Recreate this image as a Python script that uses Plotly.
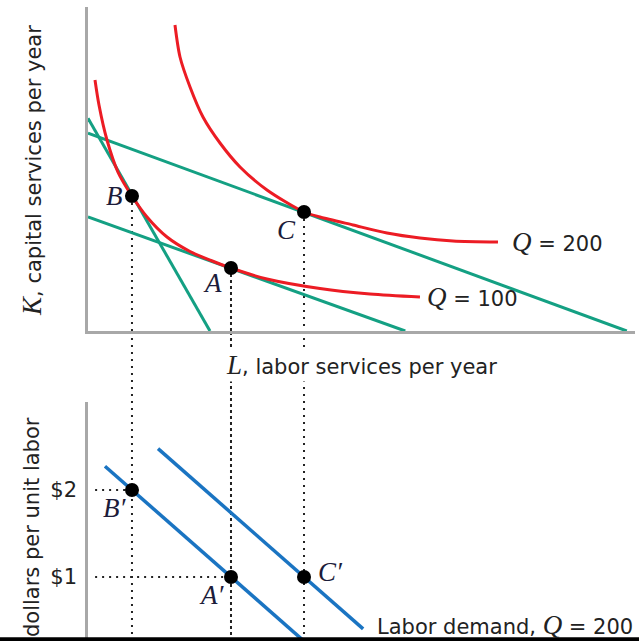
import plotly.graph_objects as go

# ---- data ----
# isoquant Q = 100 (L, K)
L_q100 = [1.28, 2.01, 3.47, 5.48, 8.04, 10.79, 14.44, 18.65, 22.49, 26.14, 32.72, 42.41, 51.55, 60.69]
K_q100 = [77.47, 69.75, 58.95, 49.07, 41.67, 35.19, 29.01, 24.54, 21.76, 19.44, 16.05, 13.12, 11.42, 10.49]
# isoquant Q = 200
L_q200 = [15.90, 16.82, 18.65, 21.02, 24.13, 27.79, 32.72, 39.49, 42.41, 48.45, 54.66, 60.69, 66.73, 74.95]
K_q200 = [94.44, 84.57, 75.31, 66.05, 58.02, 50.62, 43.52, 36.73, 35.19, 32.72, 30.25, 28.70, 27.78, 27.47]
# isocost lines (endpoints)
L_iso_steep = [0, 22.3]
K_iso_steep = [65.7, 0]
L_iso_upper = [0, 98.5]
K_iso_upper = [61.1, 0]
L_iso_lower = [0, 58.0]
K_iso_lower = [35.2, 0]
# tangency points
pt_names = ["B", "A", "C"]
pt_L = [8.04, 26.14, 39.49]
pt_K = [41.67, 19.44, 36.73]
# labour demand (wage per unit labour)
wage_pts = [2, 1, 1]
L_dem100 = [3.1, 41.0]
w_dem100 = [2.273, 0.179]
L_dem200 = [12.8, 50.3]
w_dem200 = [2.475, 0.403]
wage_ticks = [1, 2]
wage_ticktext = ["$1", "$2"]
dotted_start_L = 1.3

RED = "#ec1c24"
GREEN = "#14a083"
BLUE = "#1a74c2"
AXIS = "#a8a8a8"
TXT = "#222222"
SANS = "DejaVu Sans"
SERIF = "Liberation Serif"

fig = go.Figure()

def line(x, y, color, width, yaxis="y", dash=None, shape="linear"):
    fig.add_trace(go.Scatter(x=x, y=y, mode="lines", yaxis=yaxis, xaxis="x",
                             line=dict(color=color, width=width, dash=dash, shape=shape,
                                       smoothing=0.8 if shape == "spline" else None),
                             hoverinfo="skip", showlegend=False))

# isocosts
line(L_iso_steep, K_iso_steep, GREEN, 3)
line(L_iso_upper, K_iso_upper, GREEN, 3)
line(L_iso_lower, K_iso_lower, GREEN, 3)
# isoquants
line(L_q100, K_q100, RED, 3, shape="spline")
line(L_q200, K_q200, RED, 3, shape="spline")
# horizontal dotted lines in lower panel
line([dotted_start_L, pt_L[0]], [wage_pts[0]] * 2, "#222", 2, yaxis="y2", dash="2px,5px")
line([dotted_start_L, pt_L[1]], [wage_pts[1]] * 2, "#222", 2, yaxis="y2", dash="2px,5px")
# labour demand curves
line(L_dem100, w_dem100, BLUE, 3.5, yaxis="y2")
line(L_dem200, w_dem200, BLUE, 3.5, yaxis="y2")
# points
fig.add_trace(go.Scatter(x=pt_L, y=pt_K, mode="markers", marker=dict(color="black", size=14),
                         hoverinfo="skip", showlegend=False))
fig.add_trace(go.Scatter(x=pt_L, y=wage_pts, mode="markers", yaxis="y2", xaxis="x",
                         marker=dict(color="black", size=14), hoverinfo="skip", showlegend=False))

TOP_DOM = [0.4836, 0.9891]
BOT_DOM = [0.0, 0.3729]

# vertical dotted guides
for name, Lv, Kv in zip(pt_names, pt_L, pt_K):
    d = "3px,3px" if name == "A" else "2px,5px"
    fig.add_shape(type="line", xref="x", yref="y", x0=Lv, x1=Lv, y0=Kv, y1=0,
                  line=dict(color="#222", width=2, dash=d), layer="below")
    fig.add_shape(type="line", xref="x", yref="paper", x0=Lv, x1=Lv, y0=0, y1=TOP_DOM[0],
                  line=dict(color="#222", width=2, dash=d), layer="below")

# bottom black rule
fig.add_shape(type="rect", xref="paper", yref="paper", x0=0, x1=1, y0=0, y1=0.006,
              fillcolor="black", line=dict(width=0), layer="above")

def ser(t, size=27):
    return f"<span style=\"font-family:{SERIF};font-size:{size}px\"><i>{t}</i></span>"

ann = []
# point labels
offs = {"B": (-17, 0), "A": (-18, -15), "C": (-18, -18)}
for name, Lv, Kv in zip(pt_names, pt_L, pt_K):
    dx, dy = offs[name]
    ann.append(dict(x=Lv, y=Kv, xref="x", yref="y", text=ser(name), showarrow=False,
                    xshift=dx, yshift=dy, font=dict(family=SERIF, size=27, color="#1c1c3a")))
offs2 = {"B": (-17, -18), "A": (-19, -18), "C": (26, 5)}
for name, Lv, wv in zip(pt_names, pt_L, wage_pts):
    dx, dy = offs2[name]
    ann.append(dict(x=Lv, y=wv, xref="x", yref="y2", text=ser(name + "\u2032"), showarrow=False,
                    xshift=dx, yshift=dy, font=dict(family=SERIF, size=27, color="#1c1c3a")))
# curve labels
ann.append(dict(x=77.1, y=K_q200[-1], xref="x", yref="y", xanchor="left",
                text=ser("Q") + " = 200", showarrow=False, font=dict(family=SANS, size=21, color=TXT)))
ann.append(dict(x=61.6, y=K_q100[-1], xref="x", yref="y", xanchor="left",
                text=ser("Q") + " = 100", showarrow=False, font=dict(family=SANS, size=21, color=TXT)))
ann.append(dict(x=52.5, y=0.025, xref="x", yref="paper", xanchor="left", yanchor="middle",
                text="Labor demand, " + ser("Q") + " = 200", showarrow=False,
                font=dict(family=SANS, size=21, color=TXT)))
# axis titles
ann.append(dict(x=0.050, y=0.7348, xref="paper", yref="paper", textangle=-90,
                xanchor="center", yanchor="middle",
                text=ser("K") + ", capital services per year", showarrow=False,
                font=dict(family=SANS, size=21, color=TXT)))
ann.append(dict(x=0.5665, y=0.4306, xref="paper", yref="paper",
                xanchor="center", yanchor="middle",
                text=ser("L") + ", labor services per year", showarrow=False, bgcolor="white",
                font=dict(family=SANS, size=21, color=TXT)))
ann.append(dict(x=0.050, y=0.1778, xref="paper", yref="paper", textangle=-90,
                xanchor="center", yanchor="middle",
                text="dollars per unit labor", showarrow=False,
                font=dict(family=SANS, size=21, color=TXT)))

fig.update_layout(
    width=639, height=641, margin=dict(l=0, r=0, t=0, b=0),
    paper_bgcolor="white", plot_bgcolor="white", showlegend=False,
    xaxis=dict(domain=[88 / 639, 635 / 639], range=[0, 100], showgrid=False, zeroline=False,
               showticklabels=False, ticks="", showline=True, linecolor=AXIS, linewidth=2.5,
               anchor="y"),
    yaxis=dict(domain=TOP_DOM, range=[0, 100], showgrid=False, zeroline=False,
               showticklabels=False, ticks="", showline=True, linecolor=AXIS, linewidth=2.5,
               anchor="x"),
    yaxis2=dict(domain=BOT_DOM, range=[0.264, 3.011], showgrid=False, zeroline=False,
                tickvals=wage_ticks, ticktext=wage_ticktext, ticks="", ticklabelstandoff=4,
                tickfont=dict(family=SANS, size=21, color=TXT),
                showline=True, linecolor=AXIS, linewidth=2.5, anchor="x"),
    annotations=ann,
)

fig.write_html("out.html", config={"displayModeBar": False},
               post_script="document.body.style.margin='0';document.body.style.overflow='hidden';")
